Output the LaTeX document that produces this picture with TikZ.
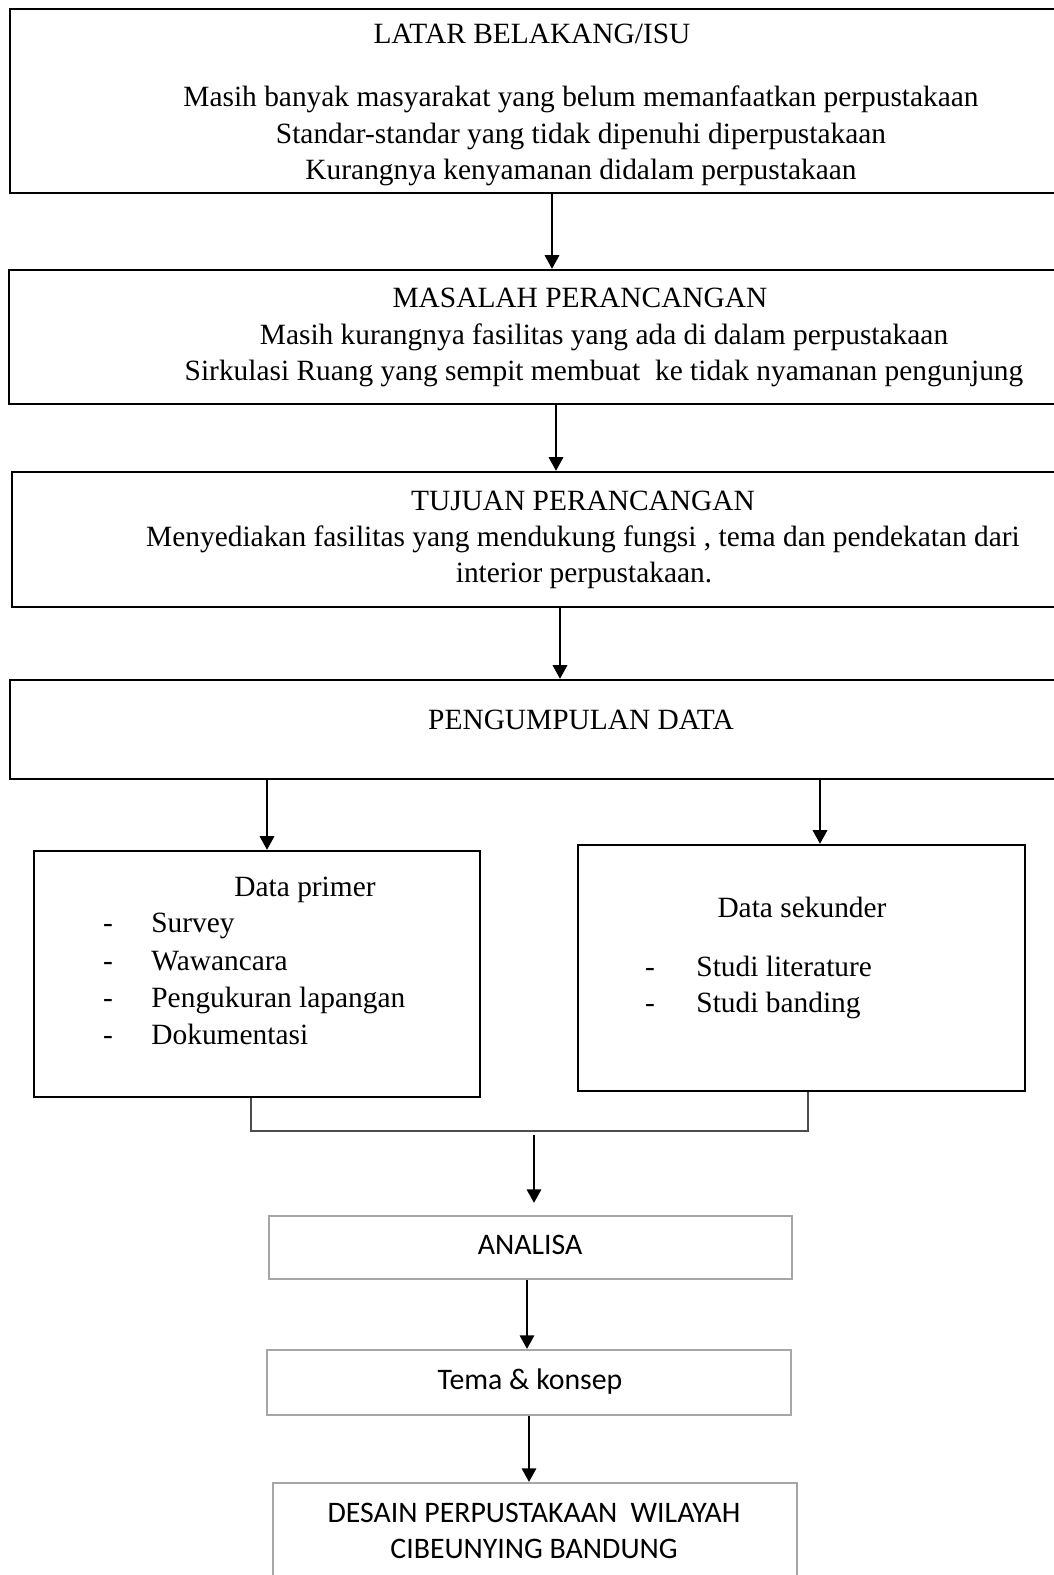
\documentclass[tikz,border=0pt]{standalone}
\usepackage{fontspec}
\setmainfont{Liberation Serif}
\newfontfamily\calfont{Carlito}
\usetikzlibrary{arrows.meta,fit}
\begin{document}
\begin{tikzpicture}[x=0.5pt,y=-0.5pt,
  blackbox/.style={draw=black, line width=1.2pt, inner sep=0pt},
  graybox/.style={draw=black!35, line width=1.1pt, inner sep=0pt},
  txt/.style={anchor=base, inner sep=0pt, font=\fontsize{14.7}{17}\selectfont},
  ltxt/.style={anchor=base west, inner sep=0pt, font=\fontsize{14.7}{17}\selectfont},
  ctxt/.style={anchor=base, inner sep=0pt, font=\calfont\fontsize{14.9}{17}\selectfont},
  arr/.style={-{Triangle[length=6.8pt,width=7.2pt]}, line width=1pt},
  bracketline/.style={draw=black!70, line width=0.7pt},
]
\useasboundingbox (0,0) rectangle (1054,1575);
\fill[white] (0,0) rectangle (1054,1575);

% boxes
\node[blackbox, fit={(10,9) (1070,193)}] (b1) {};
\node[blackbox, fit={(9,270) (1070,404)}] (b2) {};
\node[blackbox, fit={(12,472) (1070,607)}] (b3) {};
\node[blackbox, fit={(10,680) (1070,779)}] (b4) {};
\node[blackbox, fit={(34,851) (480,1097)}] (primer) {};
\node[blackbox, fit={(578,845) (1025,1091)}] (sekunder) {};
\node[graybox, fit={(269,1216) (792,1279)}] (analisa) {};
\node[graybox, fit={(267,1350) (791,1415)}] (tema) {};
\node[graybox, fit={(273,1483) (797,1600)}] (desain) {};

% texts box 1
\node[txt] (t11) at (532,43) {LATAR BELAKANG/ISU};
\node[txt] (t12) at (581,106) {Masih banyak masyarakat yang belum memanfaatkan perpustakaan};
\node[txt] (t13) at (581,143) {Standar-standar yang tidak dipenuhi diperpustakaan};
\node[txt] (t14) at (581,179) {Kurangnya kenyamanan didalam perpustakaan};
% box 2
\node[txt] (t21) at (580,307) {MASALAH PERANCANGAN};
\node[txt] (t22) at (604,344) {Masih kurangnya fasilitas yang ada di dalam perpustakaan};
\node[txt] (t23) at (604,380) {Sirkulasi Ruang yang sempit membuat\ \ ke tidak nyamanan pengunjung};
% box 3
\node[txt] (t31) at (583,510) {TUJUAN PERANCANGAN};
\node[txt] (t32) at (583,546) {Menyediakan fasilitas yang mendukung fungsi , tema dan pendekatan dari};
\node[txt] (t33) at (584,582) {interior perpustakaan.};
% box 4
\node[txt] (t41) at (581,729) {PENGUMPULAN DATA};
% primer
\node[txt] (p0) at (305,896) {Data primer};
\node[txt] (pd1) at (108,932) {-};
\node[txt] (pd2) at (108,970) {-};
\node[txt] (pd3) at (108,1007) {-};
\node[txt] (pd4) at (108,1044) {-};
\node[ltxt] (p1) at (151,932) {Survey};
\node[ltxt] (p2) at (151,970) {Wawancara};
\node[ltxt] (p3) at (151,1007) {Pengukuran lapangan};
\node[ltxt] (p4) at (151,1044) {Dokumentasi};
% sekunder
\node[txt] (s0) at (802,917) {Data sekunder};
\node[txt] (sd1) at (650,976) {-};
\node[txt] (sd2) at (650,1012) {-};
\node[ltxt] (s1) at (696,976) {Studi literature};
\node[ltxt] (s2) at (696,1012) {Studi banding};
% gray boxes
\node[ctxt] (ta) at (530,1254) {ANALISA};
\node[ctxt] (tt) at (530,1389) {Tema \& konsep};
\node[ctxt] (td1) at (534,1522) {DESAIN PERPUSTAKAAN\ \ WILAYAH};
\node[ctxt] (td2) at (534,1558) {CIBEUNYING BANDUNG};

% connectors
\coordinate (x1) at (552,0);
\coordinate (x2) at (556,0);
\coordinate (x3) at (560,0);
\coordinate (x4) at (267,0);
\coordinate (x5) at (820,0);
\coordinate (x7) at (527,0);
\coordinate (x8) at (529,0);
\coordinate (xl) at (251,0);
\coordinate (jl) at (251,1131);
\coordinate (jr) at (808,1131);
\coordinate (a6s) at (534,1135);

\draw[arr] (x1 |- b1.south) -- (x1 |- b2.north);
\draw[arr] (x2 |- b2.south) -- (x2 |- b3.north);
\draw[arr] (x3 |- b3.south) -- (x3 |- b4.north);
\draw[arr] (x4 |- b4.south) -- (x4 |- primer.north);
\draw[arr] (x5 |- b4.south) -- (x5 |- sekunder.north);
\draw[bracketline] (xl |- primer.south) -- (jl) -- (jr) -- (jr |- sekunder.south);
\draw[arr, shorten >=6pt] (a6s) -- (a6s |- analisa.north);
\draw[arr] (x7 |- analisa.south) -- (x7 |- tema.north);
\draw[arr] (x8 |- tema.south) -- (x8 |- desain.north);
\end{tikzpicture}
\end{document}
